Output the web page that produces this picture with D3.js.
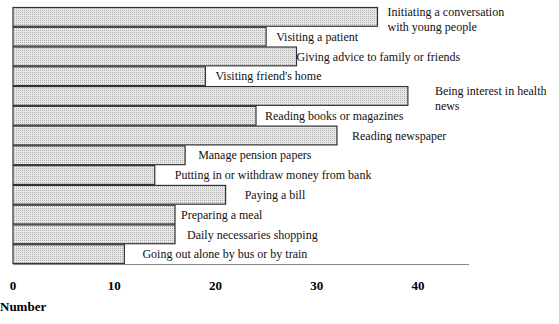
<!DOCTYPE html>
<html>
<head>
<meta charset="utf-8">
<script src="https://cdn.jsdelivr.net/npm/d3@7"></script>
<style>
  html, body { margin: 0; padding: 0; background: #fff; }
  svg { display: block; }
</style>
</head>
<body>
<div id="chart"></div>
<script>
// ==== data ====
const categories = [
  ['Initiating a conversation', 'with young people'],
  ['Visiting a patient'],
  ['Giving advice to family or friends'],
  ["Visiting friend's home"],
  ['Being interest in health', 'news'],
  ['Reading books or magazines'],
  ['Reading newspaper'],
  ['Manage pension papers'],
  ['Putting in or withdraw money from bank'],
  ['Paying a bill'],
  ['Preparing a meal'],
  ['Daily necessaries shopping'],
  ['Going out alone by bus or by train'],
]
const values = [36, 25, 28, 19, 39, 24, 32, 17, 14, 21, 16, 16, 11]
const tickValues = [0, 10, 20, 30, 40]
const axisTitle = 'Number'

// label gap from bar end (layout only)
const labelGap = [10, 10, 0, 10, 27, 9, 15, 13, 20, 19, 6, 12, 18]

const width = 559
const height = 324
const margin = { left: 13, top: 7 }
const plotBottom = 264
const serif = '"Liberation Serif", "Times New Roman", serif'

const svg = d3
  .select('#chart')
  .append('svg')
  .attr('width', width)
  .attr('height', height)

// dotted fill
const defs = svg.append('defs')
const pat = defs
  .append('pattern')
  .attr('id', 'dots')
  .attr('width', 2)
  .attr('height', 2)
  .attr('patternUnits', 'userSpaceOnUse')
pat.append('rect').attr('width', 2).attr('height', 2).attr('fill', '#e8e8e8')
pat.append('rect').attr('width', 1).attr('height', 1).attr('fill', '#b0b0b0')

const x = d3.scaleLinear().domain([0, 40]).range([margin.left, 418])
const y = d3
  .scaleBand()
  .domain(d3.range(values.length))
  .range([margin.top, plotBottom])
  .padding(0)

// bars
svg
  .selectAll('rect.bar')
  .data(values)
  .join('rect')
  .attr('class', 'bar')
  .attr('x', x(0))
  .attr('y', (d, i) => y(i) + 0.5)
  .attr('width', (d) => x(d) - x(0))
  .attr('height', y.bandwidth() - 1)
  .attr('fill', 'url(#dots)')
  .attr('stroke', '#333')
  .attr('stroke-width', 1.2)

// labels
const lineH = 15
const labels = svg
  .selectAll('text.lbl')
  .data(categories)
  .join('text')
  .attr('class', 'lbl')
  .attr('font-family', serif)
  .attr('font-size', 12)
  .attr('fill', '#111')
  .attr('x', (d, i) => x(values[i]) + labelGap[i])
  .attr('y', (d, i) => y(i) + y.bandwidth() / 2 - ((d.length - 1) * lineH) / 2 + (d.length > 1 ? 2 : 0))

labels
  .selectAll('tspan')
  .data((d) => d)
  .join('tspan')
  .attr('x', function () {
    return d3.select(this.parentNode).attr('x')
  })
  .attr('dy', (d, j) => (j === 0 ? '0.35em' : lineH))
  .text((d) => d)

// bottom axis line
svg
  .append('line')
  .attr('x1', x(0))
  .attr('x2', 469)
  .attr('y1', plotBottom + 0.5)
  .attr('y2', plotBottom + 0.5)
  .attr('stroke', '#888')
  .attr('stroke-width', 1)

// tick labels
svg
  .selectAll('text.tick')
  .data(tickValues)
  .join('text')
  .attr('class', 'tick')
  .attr('x', (d) => x(d))
  .attr('y', 290)
  .attr('text-anchor', 'middle')
  .attr('font-family', serif)
  .attr('font-weight', 'bold')
  .attr('font-size', 13)
  .attr('fill', '#000')
  .text((d) => d)

svg
  .append('text')
  .attr('x', 0)
  .attr('y', 311)
  .attr('font-family', serif)
  .attr('font-weight', 'bold')
  .attr('font-size', 13)
  .attr('fill', '#000')
  .text(axisTitle)
</script>
</body>
</html>
